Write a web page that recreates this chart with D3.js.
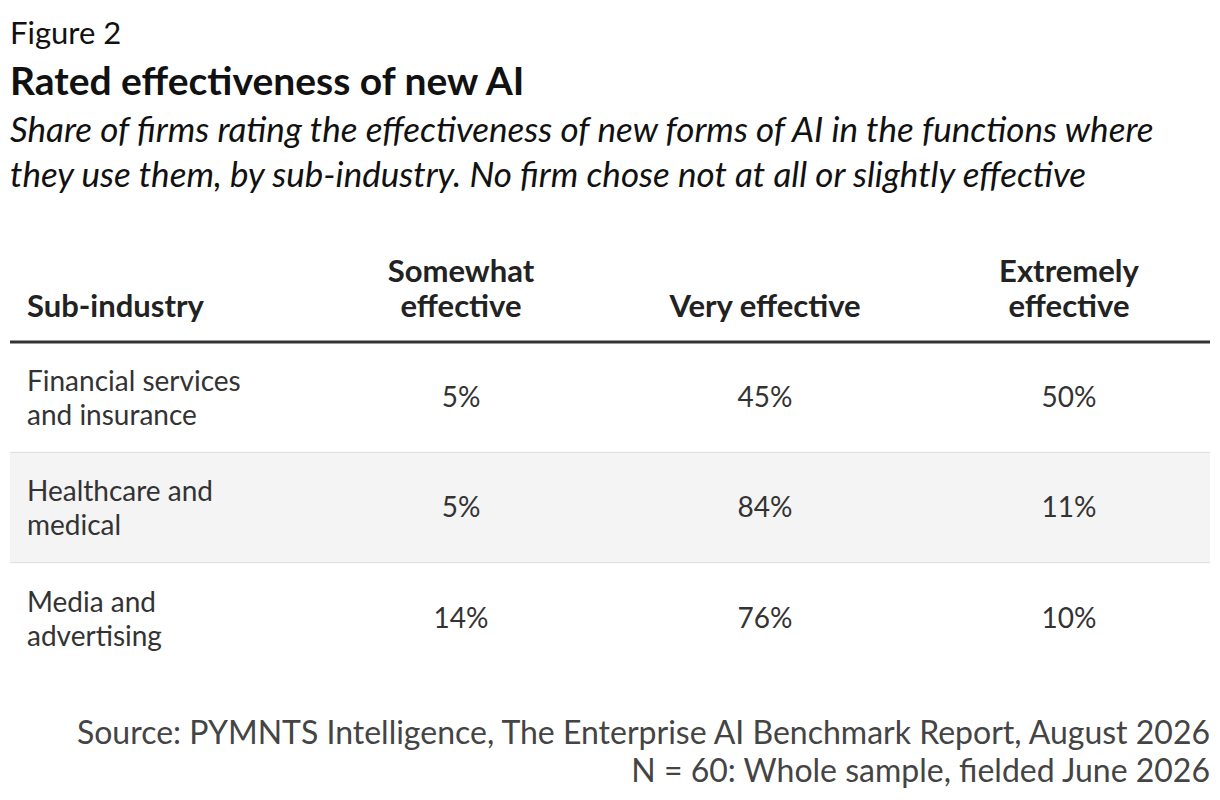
<!DOCTYPE html>
<html><head><meta charset="utf-8">
<script src="https://cdn.jsdelivr.net/npm/d3@7"></script>
<style>body{margin:0;background:#fff}svg{font-family:Lato,"Open Sans",sans-serif}</style>
</head><body><svg id="c" width="1220" height="800"></svg>
<script>
// data
var subIndustries = [["Financial services", "and insurance"], ["Healthcare and", "medical"], ["Media and", "advertising"]];
var columns = [["Somewhat", "effective"], ["Very effective"], ["Extremely", "effective"]];
var somewhat = [5, 5, 14];
var very = [45, 84, 76];
var extremely = [50, 11, 10];

var svg = d3.select('#c');
var W = 1220;

// heading
svg.append('text').attr('x', 10).attr('y', 44).attr('font-size', 31).attr('fill', '#111').text('Figure 2');
svg.append('text').attr('x', 10).attr('y', 95).attr('font-size', 39).attr('font-weight', 700).attr('fill', '#111')
   .text('Rated effectiveness of new AI');
['Share of firms rating the effectiveness of new forms of AI in the functions where',
 'they use them, by sub-industry. No firm chose not at all or slightly effective'].forEach(function(t, i) {
  svg.append('text').attr('x', 10).attr('y', 142 + i * 45).attr('font-size', 35).attr('font-style', 'italic')
     .attr('fill', '#111').text(t);
});

var y = d3.scaleBand().domain(d3.range(subIndustries.length)).range([342, 673]);
var x = d3.scalePoint().domain(d3.range(columns.length)).range([461, 1069]);
var values = [somewhat, very, extremely];

// header
svg.append('text').attr('x', 27).attr('y', 317).attr('font-size', 31).attr('font-weight', 700).attr('fill', '#222').text('Sub-industry');
columns.forEach(function(lines, c) {
  lines.forEach(function(l, i) {
    svg.append('text').attr('x', x(c)).attr('y', 317 - (lines.length - 1 - i) * 35).attr('text-anchor', 'middle')
       .attr('font-size', 31).attr('font-weight', 700).attr('fill', '#222').text(l);
  });
});

// rows
var row = svg.selectAll('g.row').data(subIndustries).enter().append('g').attr('class', 'row')
  .attr('transform', function(d, i) { return 'translate(0,' + y(i) + ')'; });
row.append('rect').attr('x', 10).attr('width', W - 20).attr('height', y.bandwidth())
  .attr('fill', function(d, i) { return i % 2 ? '#f4f4f4' : '#fff'; });
row.filter(function(d, i) { return i > 0; }).append('line').attr('x1', 10).attr('x2', W - 10)
  .attr('stroke', '#ddd').attr('stroke-width', 1);
row.each(function(d, i) {
  var g = d3.select(this), mid = y.bandwidth() / 2;
  d.forEach(function(l, k) {
    g.append('text').attr('x', 27).attr('y', mid - 6 + k * 34).attr('font-size', 28).attr('fill', '#333').text(l);
  });
  values.forEach(function(v, c) {
    g.append('text').attr('x', x(c)).attr('y', mid + 10).attr('text-anchor', 'middle')
     .attr('font-size', 28).attr('fill', '#333').text(v[i] + '%');
  });
});
svg.append('line').attr('x1', 10).attr('x2', W - 10).attr('y1', 342).attr('y2', 342).attr('stroke', '#333').attr('stroke-width', 3);

// source
['Source: PYMNTS Intelligence, The Enterprise AI Benchmark Report, August 2026',
 'N = 60: Whole sample, fielded June 2026'].forEach(function(t, i) {
  svg.append('text').attr('x', W - 10).attr('y', 744 + i * 38).attr('text-anchor', 'end')
     .attr('font-size', 32).attr('fill', '#444').text(t);
});
</script></body></html>
